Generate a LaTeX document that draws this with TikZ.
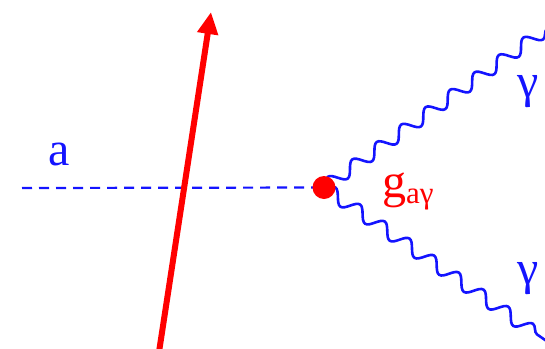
\documentclass[tikz,border=0pt]{standalone}
\usepackage{fontspec}
\newfontfamily\tms{Liberation Serif}
\usetikzlibrary{arrows.meta,decorations.pathmorphing}
\definecolor{pblue}{RGB}{20,20,255}
\definecolor{pred}{RGB}{255,0,0}
\tikzset{
  photon/.style={draw=pblue, line width=2.6pt, decorate,
    decoration={snake, segment length=30pt, amplitude=6.5pt}},
  axion/.style={draw=pblue, line width=2.2pt, dash pattern=on 10pt off 7pt},
  vertexdot/.style={circle, fill=pred, inner sep=0pt, minimum size=23pt},
  bluelabel/.style={text=pblue, font=\tms\fontsize{48}{52}\selectfont, inner sep=0pt},
  redlabel/.style={text=pred, font=\tms\fontsize{48}{52}\selectfont, inner sep=0pt},
  bigarrow/.style={draw=pred, line width=6pt, -{Triangle[length=22pt,width=20pt]}}
}
\begin{document}
\begin{tikzpicture}[x=1pt,y=-1pt]
\useasboundingbox (0,0) rectangle (545,348);
\coordinate (v) at (324,187.5);
\coordinate (astart) at (22,188);
\coordinate (g1end) at (548,28);
\coordinate (g2end) at (548,342);
\coordinate (arrbot) at (159,352);
\coordinate (arrtip) at (211,12);
\draw[axion] (astart) -- (v);
\draw[photon] (v) -- (g1end);
\draw[photon] (v) -- (g2end);
\node[vertexdot] (dot) at (v) {};
\draw[bigarrow] (arrbot) -- (arrtip);
\node[bluelabel, anchor=base] (alab) at (59,165) {a};
\node[bluelabel, anchor=base] (gam1) at (528,97) {γ};
\node[bluelabel, anchor=base] (gam2) at (528,284) {γ};
\node[redlabel, anchor=base west] (coup) at (382,197) {g\raisebox{-6pt}{\tms\fontsize{31}{33}\selectfont aγ}};
\end{tikzpicture}
\end{document}
